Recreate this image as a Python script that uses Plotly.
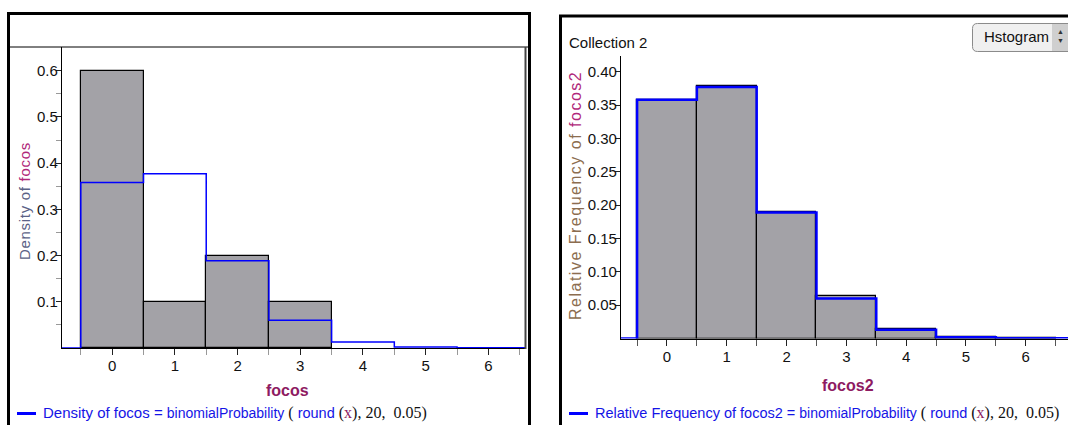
import plotly.graph_objects as go

W, H = 1068, 425

# ---------------- data ----------------
categories = [0, 1, 2, 3, 4, 5, 6]
focos_cats = [0, 1, 2, 3]
focos_density = [0.60, 0.10, 0.20, 0.10]
binom_curve = [0.358, 0.377, 0.189, 0.060, 0.013, 0.002, 0.0003]
focos2_cats = [0, 1, 2, 3, 4, 5, 6]
focos2_relfreq = [0.357, 0.378, 0.190, 0.063, 0.015, 0.003, 0.001]
left_yticks = [0.1, 0.2, 0.3, 0.4, 0.5, 0.6]
right_yticks = [0.05, 0.10, 0.15, 0.20, 0.25, 0.30, 0.35, 0.40]

# ---------------- helpers ----------------
def px(x):
    return x / W

def py(y):
    return 1 - y / H

SANS = "Liberation Sans, Arial, sans-serif"
NARROW = "Liberation Sans Narrow, Arial Narrow, Liberation Sans, Arial, sans-serif"
SERIF = "Liberation Serif, Times New Roman, serif"
BAR_FILL = "#a3a2a7"
BLUE = "#0000ff"
PURPLE = "#8e1b62"

L_XR = [-0.8, 6.6]
L_YR = [0, 0.6513]
R_XR = [-0.769, 6.706]
R_YR = [0, 0.4236]

fig = go.Figure()

fig.add_trace(go.Bar(
    x=focos_cats, y=focos_density, width=1,
    marker=dict(color=BAR_FILL, line=dict(color="black", width=1.2)),
    xaxis="x", yaxis="y", showlegend=False, hoverinfo="skip"))

def step_xy(xr):
    xs = [xr[0]] + [c - 0.5 for c in categories] + [xr[1]]
    ys = [0] + binom_curve + [binom_curve[-1]]
    return xs, ys

lx, ly = step_xy(L_XR)
fig.add_trace(go.Scatter(
    x=lx, y=ly, mode="lines", line=dict(color=BLUE, width=1.5, shape="hv"),
    xaxis="x", yaxis="y", showlegend=False, hoverinfo="skip"))

fig.add_trace(go.Bar(
    x=focos2_cats, y=focos2_relfreq, width=1,
    marker=dict(color=BAR_FILL, line=dict(color="black", width=1.2)),
    xaxis="x2", yaxis="y2", showlegend=False, hoverinfo="skip"))
rx, ry = step_xy(R_XR)
fig.add_trace(go.Scatter(
    x=rx, y=ry, mode="lines", line=dict(color=BLUE, width=2.5, shape="hv"),
    xaxis="x2", yaxis="y2", showlegend=False, hoverinfo="skip"))

tickfont = dict(family=SANS, size=15, color="#111")

def xaxis_cfg(domain, rng, anchor, minor_color):
    return dict(
        domain=domain, range=rng, anchor=anchor,
        tickvals=categories, ticktext=[str(c) for c in categories],
        ticks="outside", ticklen=6, tickcolor="#222", tickwidth=1.3,
        showline=True, linecolor="black", linewidth=1.3,
        showgrid=False, zeroline=False, tickfont=tickfont,
        ticklabelstandoff=-2,
        minor=dict(tickvals=[c - 0.5 for c in categories] + [categories[-1] + 0.5],
                   ticks="outside", ticklen=6, tickcolor=minor_color, tickwidth=1.3, showgrid=False),
        fixedrange=True)

fig.update_layout(
    width=W, height=H, margin=dict(l=0, r=0, t=0, b=0),
    paper_bgcolor="white", plot_bgcolor="white", bargap=0,
    xaxis=xaxis_cfg([px(62), px(526)], L_XR, "y", "#999"),
    yaxis=dict(
        domain=[py(348), py(47)], range=L_YR, anchor="x",
        tickvals=left_yticks, ticktext=[f"{v:.1f}" for v in left_yticks],
        ticks="outside", ticklen=5, tickcolor="#222", tickwidth=1.3,
        showline=True, linecolor="black", linewidth=1.3,
        showgrid=False, zeroline=False, tickfont=tickfont,
        ticklabelstandoff=-5,
        minor=dict(tickvals=[v - 0.05 for v in left_yticks],
                   ticks="outside", ticklen=5, tickcolor="#999", tickwidth=1.3, showgrid=False),
        fixedrange=True),
    xaxis2=xaxis_cfg([px(621), 1.0], R_XR, "y2", "#555"),
    yaxis2=dict(
        domain=[py(338.5), py(56)], range=R_YR, anchor="x2",
        tickvals=right_yticks, ticktext=[f"{v:.2f}" for v in right_yticks],
        ticks="outside", ticklen=5, tickcolor="#222", tickwidth=1.3,
        showline=True, linecolor="black", linewidth=1.3,
        showgrid=False, zeroline=False, tickfont=tickfont,
        ticklabelstandoff=-5,
        fixedrange=True),
)

shapes = []
shapes.append(dict(type="rect", xref="paper", yref="paper",
                   x0=px(8.5), x1=px(529.5), y0=py(440), y1=py(13.5),
                   line=dict(color="black", width=3)))
shapes.append(dict(type="line", xref="paper", yref="paper",
                   x0=px(9), x1=px(528), y0=py(47), y1=py(47),
                   line=dict(color="black", width=1)))
shapes.append(dict(type="line", xref="paper", yref="paper",
                   x0=px(525.5), x1=px(525.5), y0=py(47), y1=py(349),
                   line=dict(color="#444", width=2)))
shapes.append(dict(type="rect", xref="paper", yref="paper",
                   x0=px(560.5), x1=px(1080), y0=py(440), y1=py(16),
                   line=dict(color="black", width=3)))

def rounded(x0, y0, x1, y1, r):
    X = lambda v: f"{px(v):.6f}"
    Y = lambda v: f"{py(v):.6f}"
    return (f"M {X(x0 + r)},{Y(y0)} L {X(x1 - r)},{Y(y0)} Q {X(x1)},{Y(y0)} {X(x1)},{Y(y0 + r)} "
            f"L {X(x1)},{Y(y1 - r)} Q {X(x1)},{Y(y1)} {X(x1 - r)},{Y(y1)} "
            f"L {X(x0 + r)},{Y(y1)} Q {X(x0)},{Y(y1)} {X(x0)},{Y(y1 - r)} "
            f"L {X(x0)},{Y(y0 + r)} Q {X(x0)},{Y(y0)} {X(x0 + r)},{Y(y0)} Z")

shapes.append(dict(type="path", xref="paper", yref="paper",
                   path=rounded(972.5, 23.5, 1078, 51.5, 5),
                   fillcolor="#f0f0f0", line=dict(color="#8a8a8a", width=1)))
shapes.append(dict(type="rect", xref="paper", yref="paper",
                   x0=px(1052), x1=px(1068), y0=py(51), y1=py(24),
                   fillcolor="#cfcfcf", line=dict(width=0)))
shapes.append(dict(type="line", xref="paper", yref="paper",
                   x0=px(17), x1=px(36), y0=py(413.5), y1=py(413.5),
                   line=dict(color=BLUE, width=3)))
shapes.append(dict(type="line", xref="paper", yref="paper",
                   x0=px(569), x1=px(588), y0=py(413.5), y1=py(413.5),
                   line=dict(color=BLUE, width=3)))
fig.update_layout(shapes=shapes)

ann = []
def A(x, y, text, **kw):
    d = dict(xref="paper", yref="paper", x=px(x), y=py(y), text=text,
             showarrow=False, xanchor=kw.pop("xanchor", "center"),
             yanchor=kw.pop("yanchor", "middle"))
    d.update(kw)
    ann.append(d)

A(287, 390, "<b>focos</b>", font=dict(family=SANS, size=16, color=PURPLE))
A(848, 385, "<b>focos2</b>", font=dict(family=SANS, size=16, color=PURPLE))
A(25, 201, "<span style='letter-spacing:0.7px'>Density of <span style='color:#b0287a'>focos</span></span>",
  textangle=-90, font=dict(family=SANS, size=15, color="#5b6286"))
A(575, 196, "<span style='letter-spacing:1.5px'>Relative Frequency of </span>"
  "<span style='letter-spacing:1.5px;color:#b0287a'>focos2</span>",
  textangle=-90, font=dict(family=SANS, size=16, color="#8c6d4f"))

A(567, 42, "Collection 2", xanchor="left", font=dict(family=NARROW, size=15, color="#111"))
A(1016, 36.5, "Hstogram", font=dict(family=NARROW, size=15, color="#111"))
A(1060, 31, "▲", font=dict(family=SANS, size=7, color="#333"))
A(1060, 41, "▼", font=dict(family=SANS, size=7, color="#333"))

def legend_text(label):
    blue = "#1414e6"
    return (f"<span style='color:{blue}'>{label} = </span>"
            f"<span style='color:{blue};font-size:14px'>binomialProbability</span>"
            f"<span style='color:#111;font-family:{SERIF};font-size:16px'> ( </span>"
            f"<span style='color:{blue};font-size:14.5px'>round</span>"
            f"<span style='color:#111;font-family:{SERIF};font-size:16px'> (</span>"
            f"<span style='color:{PURPLE};font-family:{SERIF};font-size:16px'>x</span>"
            f"<span style='color:#111;font-family:{SERIF};font-size:16px'>), 20,  0.05)</span>")

A(41, 413, legend_text("Density of focos"), xanchor="left",
  font=dict(family=SANS, size=15, color="#1414e6"))
A(593, 413, legend_text("Relative Frequency of focos2"), xanchor="left",
  font=dict(family=SANS, size=14.5, color="#1414e6"))

fig.update_layout(annotations=ann)

fig.write_html("out.html",
               config={"displayModeBar": False},
               post_script="document.body.style.margin='0';document.body.style.overflow='hidden';")
